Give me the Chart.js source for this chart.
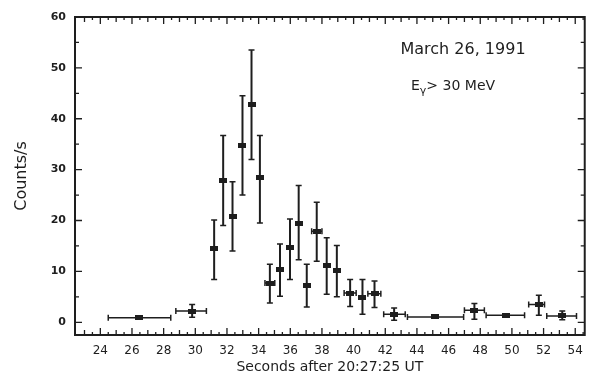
<!DOCTYPE html>
<html>
<head>
<meta charset="utf-8">
<script src="https://cdn.jsdelivr.net/npm/chart.js@4"></script>
<style>
  html, body { margin: 0; padding: 0; background: #fff; }
  #wrap { position: relative; width: 592px; height: 377px; }
</style>
</head>
<body>
<div id="wrap"><canvas id="chartCanvas" width="592" height="377"></canvas></div>
<script>
const chartContext = document.getElementById("chartCanvas");

// bin centres (s after 20:27:25 UT) and bin edges
const timeSec  = [26.44, 29.8, 31.19, 31.76, 32.35, 32.98, 33.55, 34.08, 34.71, 35.35, 35.98, 36.53, 37.04, 37.67, 38.3, 38.94, 39.78, 40.56, 41.32, 42.56, 45.16, 47.63, 49.6, 51.7, 53.18];
const timeLow  = [24.5, 28.77, 31.0, 31.58, 32.17, 32.8, 33.37, 33.9, 34.4, 35.12, 35.75, 36.33, 36.85, 37.35, 38.05, 38.72, 39.4, 40.35, 40.9, 41.9, 43.4, 47.0, 48.37, 51.06, 52.2];
const timeHigh = [28.45, 30.7, 31.38, 31.94, 32.53, 33.16, 33.73, 34.26, 35.02, 35.58, 36.2, 36.73, 37.23, 38.0, 38.55, 39.16, 40.16, 40.78, 41.72, 43.26, 46.95, 48.26, 50.8, 52.06, 54.08];

// counts/s with 1-sigma range
const rate     = [0.9, 2.2, 14.5, 27.8, 20.8, 34.8, 42.9, 28.4, 7.7, 10.3, 14.6, 19.5, 7.3, 17.9, 11.2, 10.2, 5.75, 4.96, 5.6, 1.6, 1.05, 2.35, 1.37, 3.5, 1.25];
const rateHigh = [0.9, 3.5, 20.1, 36.7, 27.6, 44.5, 53.5, 36.7, 11.4, 15.4, 20.3, 26.9, 11.4, 23.6, 16.6, 15.1, 8.4, 8.4, 8.1, 2.8, 1.05, 3.7, 1.37, 5.3, 2.2];
const rateLow  = [0.9, 1.0, 8.4, 19.0, 14.0, 25.0, 32.0, 19.5, 3.8, 5.1, 8.4, 12.3, 3.0, 12.0, 5.5, 5.0, 3.1, 1.6, 2.9, 0.4, 1.05, 0.6, 1.37, 1.4, 0.5];

const xTickLabels = [24, 26, 28, 30, 32, 34, 36, 38, 40, 42, 44, 46, 48, 50, 52, 54];
const yTickLabels = [0, 10, 20, 30, 40, 50, 60];

const INK = "#1e1e1e";

// filled dash used as the marker
const marker = document.createElement("canvas");
marker.width = 8;
marker.height = 5;
const mctx = marker.getContext("2d");
mctx.fillStyle = INK;
mctx.fillRect(0, 0, 8, 5);

const errorBars = {
  id: "errorBars",
  afterDatasetsDraw(chart) {
    const { ctx, scales: { x, y } } = chart;
    ctx.save();
    ctx.strokeStyle = INK;
    timeSec.forEach((t, i) => {
      const px = x.getPixelForValue(t);
      const py = y.getPixelForValue(rate[i]);
      const yTop = y.getPixelForValue(rateHigh[i]);
      const yBot = y.getPixelForValue(rateLow[i]);
      const xL = x.getPixelForValue(timeLow[i]);
      const xR = x.getPixelForValue(timeHigh[i]);
      ctx.lineWidth = 2;
      if (yBot - yTop > 2) {
        ctx.beginPath();
        ctx.moveTo(px, yTop); ctx.lineTo(px, yBot);
        ctx.stroke();
        ctx.lineWidth = 1.5;
        ctx.beginPath();
        ctx.moveTo(px - 3, yTop); ctx.lineTo(px + 3, yTop);
        ctx.moveTo(px - 3, yBot); ctx.lineTo(px + 3, yBot);
        ctx.stroke();
      }
      if (xR - xL > 9) {
        ctx.lineWidth = 1.5;
        ctx.beginPath();
        ctx.moveTo(xL, py); ctx.lineTo(xR, py);
        ctx.moveTo(xL, py - 3); ctx.lineTo(xL, py + 3);
        ctx.moveTo(xR, py - 3); ctx.lineTo(xR, py + 3);
        ctx.stroke();
      }
    });
    ctx.restore();
  },
};

// box frame with inward ticks on all four sides, plus the event label
const frameTicks = {
  id: "frameTicks",
  afterDraw(chart) {
    const { ctx, chartArea: a, scales: { x, y } } = chart;
    ctx.save();
    ctx.strokeStyle = INK;
    ctx.lineWidth = 2;
    ctx.strokeRect(a.left, a.top, a.right - a.left, a.bottom - a.top);
    ctx.lineWidth = 1.3;
    ctx.beginPath();
    for (let v = 23; v <= 54.5; v += 0.5) {
      const px = x.getPixelForValue(v);
      const len = v % 2 === 0 ? 7 : (v % 1 === 0 ? 5 : 3);
      ctx.moveTo(px, a.bottom); ctx.lineTo(px, a.bottom - len);
      ctx.moveTo(px, a.top); ctx.lineTo(px, a.top + len);
    }
    for (let v = 0; v <= 60; v += 5) {
      const py = y.getPixelForValue(v);
      const len = v % 10 === 0 ? 7 : 4;
      ctx.moveTo(a.left, py); ctx.lineTo(a.left + len, py);
      ctx.moveTo(a.right, py); ctx.lineTo(a.right - len, py);
    }
    ctx.stroke();

    ctx.fillStyle = INK;
    ctx.textBaseline = "middle";
    ctx.textAlign = "center";
    ctx.font = "16px 'DejaVu Sans'";
    ctx.fillText("March 26, 1991", 463, 50);

    // E with a subscript gamma, then the threshold
    ctx.textAlign = "left";
    ctx.font = "14px 'DejaVu Sans'";
    let cx = 411;
    ctx.fillText("E", cx, 86);
    cx += ctx.measureText("E").width;
    ctx.font = "11px 'DejaVu Sans'";
    ctx.fillText("\u03B3", cx, 91);
    cx += ctx.measureText("\u03B3").width;
    ctx.font = "14px 'DejaVu Sans'";
    ctx.fillText("> 30 MeV", cx, 86);
    ctx.restore();
  },
};

let chart = new Chart(chartContext, {
  type: "scatter",
  data: {
    datasets: [
      {
        data: timeSec.map((t, i) => ({ x: t, y: rate[i] })),
        pointStyle: marker,
        pointRadius: 4,
        showLine: false,
      },
    ],
  },
  options: {
    responsive: false,
    animation: false,
    layout: { padding: { top: 17, right: 7, left: 0, bottom: 0 } },
    plugins: {
      legend: { display: false },
      tooltip: { enabled: false },
    },
    scales: {
      x: {
        type: "linear",
        min: 22.4,
        max: 54.6,
        afterBuildTicks: (scale) => {
          scale.ticks = xTickLabels.map((v) => ({ value: v }));
        },
        afterFit: (scale) => { scale.height = 42; },
        grid: { display: false, drawTicks: false },
        border: { display: false },
        ticks: {
          color: INK,
          padding: 9,
          autoSkip: false,
          maxRotation: 0,
          font: { family: "DejaVu Sans", size: 12 },
        },
        title: {
          display: true,
          text: "Seconds after 20:27:25 UT",
          color: INK,
          padding: { top: 0, bottom: 1 },
          font: { family: "DejaVu Sans", size: 14 },
        },
      },
      y: {
        min: -2.5,
        max: 60,
        afterBuildTicks: (scale) => {
          scale.ticks = yTickLabels.map((v) => ({ value: v }));
        },
        afterFit: (scale) => { scale.width = 75; },
        grid: { display: false, drawTicks: false },
        border: { display: false },
        ticks: {
          color: INK,
          padding: 9,
          font: { family: "DejaVu Sans", size: 11, weight: "bold" },
        },
        title: {
          display: true,
          text: "Counts/s",
          color: INK,
          padding: { top: 12, bottom: 0 },
          font: { family: "DejaVu Sans", size: 16 },
        },
      },
    },
  },
  plugins: [errorBars, frameTicks],
});
</script>
</body>
</html>
